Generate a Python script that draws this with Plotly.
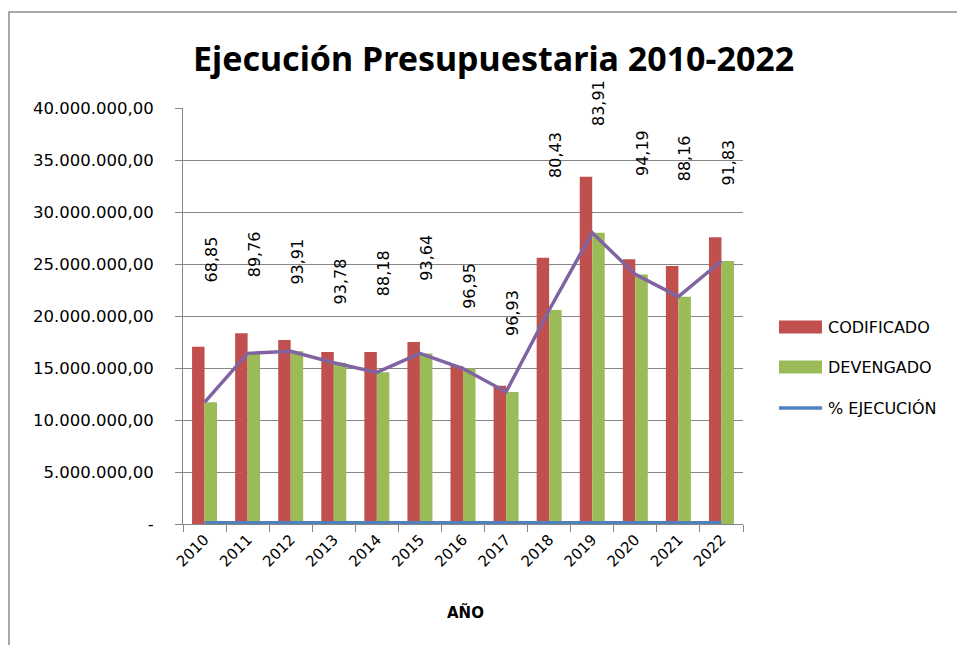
import plotly.graph_objects as go

years = ["2010", "2011", "2012", "2013", "2014", "2015", "2016",
         "2017", "2018", "2019", "2020", "2021", "2022"]
codificado = [17.05e6, 18.33e6, 17.69e6, 16.54e6, 16.54e6, 17.50e6, 15.19e6,
              13.30e6, 25.61e6, 33.40e6, 25.45e6, 24.80e6, 27.57e6]
devengado = [11.70e6, 16.41e6, 16.60e6, 15.50e6, 14.58e6, 16.40e6, 14.95e6,
             12.70e6, 20.58e6, 28.00e6, 24.00e6, 21.86e6, 25.29e6]
ejecucion = [68.85, 89.76, 93.91, 93.78, 88.18, 93.64, 96.95,
             96.93, 80.43, 83.91, 94.19, 88.16, 91.83]
# heights (axis units) where the percentage labels were placed
label_heights = [25.4e6, 25.9e6, 25.2e6, 23.3e6, 24.1e6, 25.6e6, 22.9e6,
                 20.3e6, 35.5e6, 40.5e6, 35.7e6, 35.2e6, 34.8e6]
y_ticks = [0, 5e6, 10e6, 15e6, 20e6, 25e6, 30e6, 35e6, 40e6]
Y_MAX = 40e6

RED = "#C0504D"
GREEN = "#9BBB59"
BLUE = "#4F81BD"
PURPLE = "#8064A2"
FONT = "DejaVu Sans"


def es_fmt(v):
    if v == 0:
        return "-"
    s = f"{v:,.2f}"
    return s.replace(",", "X").replace(".", ",").replace("X", ".")


# page offset of the plot div (default body margin)
OFF = 8
W, H = 965 - OFF, 645 - OFF
L, R, T, B = 183 - OFF, 743 - OFF, 108 - OFF, 524 - OFF


def px(x):
    return (x - OFF - L) / (R - L)


def py(y):
    return (B - (y - OFF)) / (B - T)


fig = go.Figure()
fig.add_trace(go.Bar(x=years, y=codificado, name="CODIFICADO",
                     marker=dict(color=RED, line=dict(width=0))))
fig.add_trace(go.Bar(x=years, y=devengado, name="DEVENGADO",
                     marker=dict(color=GREEN, line=dict(width=0))))
fig.add_trace(go.Scatter(x=years, y=devengado, mode="lines", showlegend=False,
                         line=dict(color=PURPLE, width=3.5)))
fig.add_trace(go.Scatter(x=years, y=ejecucion, mode="lines", name="% EJECUCIÓN",
                         cliponaxis=False, line=dict(color=BLUE, width=6)))

annotations = []
for i, (p, h) in enumerate(zip(ejecucion, label_heights)):
    annotations.append(dict(x=i, y=h / Y_MAX, xref="x", yref="paper",
                            text=f"{p:.2f}".replace(".", ","),
                            textangle=-90, showarrow=False, xshift=7,
                            xanchor="center", yanchor="middle",
                            font=dict(family=FONT, size=16, color="#000000")))

# title
annotations.append(dict(x=px(493), y=py(58), xref="paper", yref="paper",
                        xanchor="center", yanchor="middle",
                        text="<b>Ejecución Presupuestaria 2010-2022</b>", showarrow=False,
                        font=dict(family="Liberation Sans Narrow, Noto Sans", size=34, color="#000000")))
# x axis title
annotations.append(dict(x=px(465), y=py(612), xref="paper", yref="paper",
                        xanchor="center", yanchor="middle",
                        text="<b>AÑO</b>", showarrow=False,
                        font=dict(family=FONT, size=15, color="#000000")))

# custom legend
shapes = []
legend_items = [("CODIFICADO", RED, "bar", 327), ("DEVENGADO", GREEN, "bar", 367),
                ("% EJECUCIÓN", BLUE, "line", 408)]
for name, col, kind, yy in legend_items:
    if kind == "bar":
        shapes.append(dict(type="rect", xref="paper", yref="paper",
                           x0=px(779), x1=px(822), y0=py(yy - 6.5), y1=py(yy + 6.5),
                           fillcolor=col, line=dict(width=0)))
    else:
        shapes.append(dict(type="line", xref="paper", yref="paper",
                           x0=px(779), x1=px(822), y0=py(yy), y1=py(yy),
                           line=dict(color=col, width=3.5)))
    annotations.append(dict(x=px(826), y=py(yy), xref="paper", yref="paper",
                            xanchor="left", yanchor="middle", text=name, showarrow=False,
                            font=dict(family=FONT, size=16, color="#000000")))

# outer frame
shapes.append(dict(type="rect", xref="paper", yref="paper",
                   x0=px(9), x1=px(1000), y0=py(12), y1=py(700),
                   line=dict(color="#8C8C8C", width=1.5), fillcolor="rgba(0,0,0,0)",
                   layer="below"))

fig.update_layout(
    width=W, height=H,
    margin=dict(l=L, r=W - R, t=T, b=H - B, pad=0),
    paper_bgcolor="white", plot_bgcolor="white",
    barmode="group", bargap=0.42, bargroupgap=0.0,
    showlegend=False,
    annotations=annotations, shapes=shapes,
    font=dict(family=FONT, color="#000000"),
)
fig.update_xaxes(type="category", range=[-0.5, len(years) - 0.5], autorange=False,
                 tickangle=-45, tickson="boundaries", layer="below traces",
                 ticks="outside", ticklen=7, tickcolor="#868686",
                 showline=True, linecolor="#868686", linewidth=1,
                 showgrid=False, tickfont=dict(family=FONT, size=15, color="#000000"))
fig.update_yaxes(range=[0, Y_MAX], autorange=False, tickvals=y_ticks,
                 ticktext=[es_fmt(v) for v in y_ticks],
                 ticks="outside", ticklen=7, tickcolor="#868686",
                 showline=True, linecolor="#868686", linewidth=1,
                 showgrid=True, gridcolor="#868686", gridwidth=1,
                 zeroline=False, ticklabelstandoff=18,
                 tickfont=dict(family=FONT, size=16.5, color="#000000"))

fig.write_html("out.html")
